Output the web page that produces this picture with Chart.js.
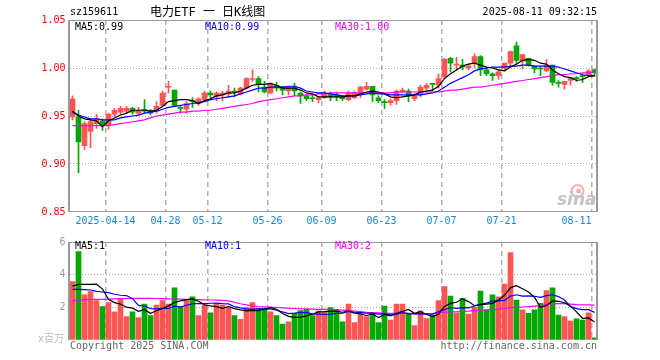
<!DOCTYPE html>
<html>
<head>
<meta charset="utf-8">
<script src="https://cdn.jsdelivr.net/npm/chart.js@4.4.1/dist/chart.umd.min.js"></script>
<style>
  body { margin: 0; background: #fff; }
  #wrap { position: relative; width: 660px; height: 360px; overflow: hidden;
          font-family: "DejaVu Sans Mono", "Noto Sans CJK SC", monospace; font-size: 10px; }
  #wrap canvas { position: absolute; left: 0; }
  .t { position: absolute; white-space: pre; line-height: 12px; }
</style>
</head>
<body>
<div id="wrap">
  <canvas id="k" width="660" height="232" style="top:0"></canvas>
  <canvas id="v" width="660" height="128" style="top:232px"></canvas>

  <div class="t" style="left:70px;top:6px">sz159611</div>
  <div class="t" style="left:150px;top:5px;font-size:12px;line-height:14px">电力ETF 一 日K线图</div>
  <div class="t" style="right:63px;top:6px">2025-08-11 09:32:15</div>

  <div class="t" id="pma5" style="left:75px;top:21px;color:#000"></div>
  <div class="t" id="pma10" style="left:205px;top:21px;color:#00f"></div>
  <div class="t" id="pma30" style="left:335px;top:21px;color:#f0f"></div>

  <div class="t" id="vma5l" style="left:75px;top:240px;color:#000"></div>
  <div class="t" id="vma10l" style="left:205px;top:240px;color:#00f"></div>
  <div class="t" id="vma30l" style="left:335px;top:240px;color:#f0f"></div>

  <div class="t" style="left:38px;top:333px;color:#bbb">x百万</div>
  <div class="t" style="left:70px;top:340px;color:#666">Copyright 2025 SINA.COM</div>
  <div class="t" style="right:63px;top:340px;color:#666">http://finance.sina.com.cn</div>
</div>

<script>
// trading days shown
const dates = [
  '2025-04-03','2025-04-07','2025-04-08','2025-04-09','2025-04-10','2025-04-11',
  '2025-04-14','2025-04-15','2025-04-16','2025-04-17','2025-04-18',
  '2025-04-21','2025-04-22','2025-04-23','2025-04-24','2025-04-25',
  '2025-04-28','2025-04-29','2025-04-30',
  '2025-05-06','2025-05-07','2025-05-08','2025-05-09',
  '2025-05-12','2025-05-13','2025-05-14','2025-05-15','2025-05-16',
  '2025-05-19','2025-05-20','2025-05-21','2025-05-22','2025-05-23',
  '2025-05-26','2025-05-27','2025-05-28','2025-05-29','2025-05-30',
  '2025-06-03','2025-06-04','2025-06-05','2025-06-06',
  '2025-06-09','2025-06-10','2025-06-11','2025-06-12','2025-06-13',
  '2025-06-16','2025-06-17','2025-06-18','2025-06-19','2025-06-20',
  '2025-06-23','2025-06-24','2025-06-25','2025-06-26','2025-06-27',
  '2025-06-30','2025-07-01','2025-07-02','2025-07-03','2025-07-04',
  '2025-07-07','2025-07-08','2025-07-09','2025-07-10','2025-07-11',
  '2025-07-14','2025-07-15','2025-07-16','2025-07-17','2025-07-18',
  '2025-07-21','2025-07-22','2025-07-23','2025-07-24','2025-07-25',
  '2025-07-28','2025-07-29','2025-07-30','2025-07-31','2025-08-01',
  '2025-08-04','2025-08-05','2025-08-06','2025-08-07','2025-08-08',
  '2025-08-11'
];

const opens = [
  0.949,0.949,0.919,0.934,0.942,0.945,0.941,0.952,0.954,0.955,
  0.958,0.953,0.957,0.955,0.955,0.961,0.980,0.977,0.959,0.957,
  0.966,0.963,0.967,0.974,0.970,0.972,0.973,0.976,0.973,0.979,
  0.988,0.989,0.980,0.974,0.982,0.980,0.976,0.980,0.974,0.971,
  0.969,0.967,0.969,0.972,0.972,0.970,0.967,0.969,0.973,0.978,
  0.981,0.969,0.965,0.964,0.966,0.975,0.976,0.968,0.972,0.979,
  0.984,0.982,0.991,1.010,1.003,1.003,1.000,1.005,1.012,0.998,
  0.994,0.992,1.000,1.005,1.023,1.007,1.010,1.002,1.000,0.997,
  1.003,0.985,0.983,0.987,0.990,0.992,0.993,0.998
];
const highs = [
  0.971,0.956,0.944,0.946,0.952,0.947,0.953,0.958,0.960,0.960,
  0.959,0.959,0.967,0.957,0.965,0.976,0.986,0.977,0.961,0.965,
  0.969,0.969,0.976,0.976,0.975,0.976,0.982,0.979,0.980,0.990,
  0.998,0.991,0.986,0.984,0.985,0.981,0.981,0.984,0.975,0.972,
  0.972,0.970,0.976,0.975,0.975,0.971,0.976,0.976,0.981,0.985,
  0.981,0.971,0.967,0.968,0.977,0.979,0.978,0.973,0.982,0.984,
  0.984,0.994,1.010,1.011,1.011,1.009,1.004,1.015,1.013,1.000,
  0.995,0.998,1.005,1.018,1.027,1.014,1.010,1.002,1.002,1.009,
  1.003,0.987,0.986,0.990,0.991,0.994,0.998,0.999
];
const lows = [
  0.946,0.891,0.915,0.917,0.937,0.935,0.936,0.949,0.951,0.953,
  0.952,0.951,0.953,0.951,0.953,0.960,0.974,0.960,0.953,0.953,
  0.959,0.961,0.965,0.969,0.966,0.966,0.969,0.970,0.972,0.978,
  0.986,0.975,0.974,0.973,0.976,0.972,0.972,0.971,0.963,0.966,
  0.965,0.964,0.968,0.966,0.966,0.966,0.966,0.968,0.969,0.977,
  0.965,0.964,0.958,0.961,0.962,0.974,0.965,0.966,0.970,0.977,
  0.976,0.979,0.989,0.996,0.998,0.998,0.998,1.000,0.992,0.992,
  0.987,0.988,0.997,1.002,1.005,0.999,1.002,0.995,0.992,0.996,
  0.982,0.980,0.978,0.982,0.986,0.985,0.991,0.991
];
const closes = [
  0.968,0.923,0.942,0.944,0.947,0.941,0.952,0.956,0.958,0.958,
  0.954,0.956,0.955,0.953,0.960,0.974,0.981,0.961,0.958,0.963,
  0.965,0.968,0.974,0.972,0.974,0.974,0.976,0.975,0.979,0.989,
  0.989,0.983,0.975,0.983,0.979,0.977,0.980,0.976,0.971,0.968,
  0.968,0.969,0.973,0.970,0.970,0.968,0.974,0.974,0.980,0.981,
  0.972,0.966,0.964,0.966,0.976,0.977,0.971,0.971,0.980,0.982,
  0.983,0.989,1.009,1.005,1.004,1.001,1.002,1.012,0.998,0.994,
  0.992,0.996,1.005,1.017,1.008,1.014,1.003,0.999,0.999,1.003,
  0.985,0.984,0.986,0.990,0.989,0.991,0.997,0.995
];

// price moving averages
const ma5 = [
  0.955,0.950,0.947,0.946,0.945,0.939,0.945,0.948,0.951,0.953,
  0.956,0.956,0.956,0.955,0.956,0.960,0.965,0.966,0.967,0.967,
  0.966,0.963,0.966,0.968,0.971,0.972,0.974,0.974,0.976,0.979,
  0.982,0.983,0.983,0.984,0.982,0.979,0.979,0.979,0.977,0.974,
  0.973,0.970,0.970,0.970,0.970,0.970,0.971,0.971,0.973,0.975,
  0.976,0.975,0.973,0.970,0.969,0.970,0.971,0.972,0.975,0.976,
  0.977,0.981,0.989,0.994,0.998,1.002,1.004,1.005,1.003,1.001,
  1.000,0.998,0.997,1.001,1.004,1.008,1.009,1.008,1.005,1.004,
  0.998,0.994,0.991,0.990,0.987,0.988,0.991,0.992
];
const ma10 = [
  0.954,0.951,0.949,0.947,0.947,0.946,0.946,0.946,0.948,0.949,
  0.950,0.951,0.953,0.954,0.955,0.957,0.959,0.960,0.961,0.962,
  0.963,0.964,0.965,0.967,0.968,0.969,0.970,0.971,0.973,0.975,
  0.977,0.979,0.979,0.980,0.980,0.980,0.981,0.981,0.979,0.976,
  0.975,0.974,0.974,0.973,0.972,0.971,0.971,0.971,0.972,0.973,
  0.974,0.973,0.973,0.972,0.972,0.972,0.972,0.972,0.972,0.973,
  0.974,0.976,0.980,0.984,0.987,0.990,0.993,0.997,0.999,1.000,
  1.001,1.001,1.001,1.002,1.002,1.003,1.003,1.002,1.002,1.002,
  1.002,1.001,0.999,0.997,0.995,0.993,0.992,0.992
];
const ma30 = [
  0.940,0.940,0.940,0.940,0.940,0.940,0.940,0.941,0.942,0.943,
  0.944,0.945,0.946,0.948,0.950,0.951,0.952,0.953,0.954,0.954,
  0.955,0.955,0.956,0.956,0.957,0.958,0.959,0.960,0.961,0.962,
  0.963,0.965,0.966,0.967,0.968,0.969,0.970,0.971,0.971,0.972,
  0.972,0.973,0.973,0.974,0.974,0.974,0.974,0.974,0.974,0.974,
  0.974,0.974,0.974,0.974,0.975,0.975,0.975,0.975,0.975,0.975,
  0.975,0.975,0.976,0.977,0.977,0.978,0.979,0.980,0.980,0.981,
  0.982,0.983,0.984,0.985,0.986,0.987,0.988,0.989,0.990,0.991,
  0.992,0.993,0.993,0.994,0.994,0.995,0.995,0.996
];

// volume, millions
const volumes = [
  3.57,5.41,2.76,2.96,2.41,2.04,2.29,1.73,2.55,1.43,
  1.73,1.37,2.20,1.49,2.14,2.41,2.20,3.20,2.04,2.49,
  2.65,1.49,2.14,1.67,2.24,2.14,2.04,1.49,1.27,1.98,
  2.29,1.94,1.94,1.73,1.49,0.98,1.12,1.63,1.80,1.88,
  1.49,1.78,1.73,1.98,1.88,1.12,2.20,1.06,1.67,1.43,
  1.63,1.06,2.08,1.22,2.20,2.20,1.63,0.88,1.78,1.31,
  1.53,2.41,3.27,2.69,1.67,2.55,1.59,2.00,3.00,1.84,
  2.76,2.65,3.43,5.35,2.45,1.84,1.63,1.84,2.24,3.02,
  3.20,1.53,1.43,1.16,1.29,1.22,1.67,0.14
];
const vma5 = [
  3.30,3.41,3.41,3.41,3.42,3.12,2.49,2.29,2.20,2.01,
  1.95,1.76,1.86,1.64,1.79,1.92,2.09,2.29,2.40,2.47,
  2.52,2.37,2.16,2.09,2.04,1.94,2.05,1.92,1.84,1.78,
  1.81,1.79,1.88,1.98,1.88,1.62,1.45,1.39,1.40,1.48,
  1.58,1.72,1.74,1.77,1.77,1.70,1.78,1.65,1.59,1.50,
  1.60,1.37,1.57,1.48,1.64,1.75,1.87,1.63,1.74,1.56,
  1.43,1.58,2.06,2.24,2.31,2.52,2.35,2.10,2.16,2.20,
  2.24,2.45,2.74,3.21,3.33,3.14,2.94,2.62,2.00,2.11,
  2.39,2.37,2.28,2.07,1.72,1.33,1.35,1.10
];
const vma10 = [
  3.10,3.10,3.08,3.06,2.98,2.94,2.90,2.80,2.74,2.72,
  2.53,2.12,2.08,1.92,1.90,1.94,1.93,2.07,2.02,2.13,
  2.22,2.23,2.23,2.25,2.26,2.23,2.21,2.04,1.97,1.91,
  1.88,1.92,1.90,1.91,1.83,1.72,1.62,1.64,1.69,1.68,
  1.60,1.59,1.57,1.59,1.63,1.64,1.75,1.70,1.68,1.64,
  1.65,1.58,1.61,1.54,1.57,1.68,1.62,1.60,1.61,1.60,
  1.59,1.73,1.85,1.99,1.94,1.98,1.97,2.08,2.20,2.26,
  2.38,2.40,2.42,2.69,2.77,2.69,2.70,2.68,2.61,2.72,
  2.77,2.66,2.45,2.04,1.92,1.86,1.86,1.69
];
const vma30 = [
  2.40,2.45,2.47,2.49,2.49,2.49,2.50,2.52,2.53,2.54,
  2.55,2.55,2.55,2.55,2.54,2.53,2.52,2.51,2.50,2.49,
  2.48,2.47,2.46,2.45,2.44,2.42,2.40,2.30,2.22,2.15,
  2.08,2.05,2.03,2.01,1.99,1.97,1.95,1.93,1.91,1.90,
  1.89,1.88,1.88,1.87,1.85,1.83,1.80,1.77,1.74,1.70,
  1.68,1.66,1.64,1.63,1.63,1.63,1.63,1.62,1.61,1.60,
  1.62,1.66,1.70,1.72,1.73,1.75,1.77,1.80,1.82,1.85,
  1.87,1.89,1.93,1.98,2.00,2.02,2.04,2.07,2.10,2.18,
  2.21,2.23,2.24,2.20,2.16,2.15,2.15,2.14
];

// x axis labels
const tickDates = ['2025-04-14','2025-04-28','2025-05-12','2025-05-26','2025-06-09',
                   '2025-06-23','2025-07-07','2025-07-21','2025-08-11'];
const tickTexts = ['2025-04-14','04-28','05-12','05-26','06-09',
                   '06-23','07-07','07-21','08-11     ']; // trailing spaces pull the last one inside the frame

const RED = '#ff5555', GREEN = '#00a800';
const colors = dates.map((d, i) => closes[i] >= opens[i] ? RED : GREEN);
const tickAt = {};
tickDates.forEach((d, k) => { tickAt[dates.indexOf(d)] = tickTexts[k]; });

Chart.defaults.font.family = '"DejaVu Sans Mono", monospace';
Chart.defaults.font.size = 10;

const frame = {
  id: 'frame',
  afterDatasetsDraw(chart, args, o) {
    const { ctx, chartArea: a } = chart;
    const l = Math.round(a.left) - 1, r = Math.round(a.right) - 1;
    ctx.save();
    ctx.strokeStyle = '#999';
    ctx.lineWidth = 1;
    ctx.beginPath();
    ctx.moveTo(l, a.top + 0.5); ctx.lineTo(r, a.top + 0.5);
    if (o.bottom) { ctx.moveTo(l, a.bottom - 0.5); ctx.lineTo(r, a.bottom - 0.5); }
    ctx.stroke();
    ctx.lineWidth = 2;
    ctx.beginPath();
    ctx.moveTo(l, a.top); ctx.lineTo(l, a.bottom);
    ctx.moveTo(r, a.top); ctx.lineTo(r, a.bottom);
    ctx.stroke();
    ctx.restore();
  }
};

// sina watermark
const logo = {
  id: 'logo',
  beforeDatasetsDraw(chart) {
    const { ctx, chartArea: a } = chart;
    ctx.save();
    ctx.strokeStyle = '#f3b0b0';
    ctx.lineWidth = 2;
    ctx.beginPath();
    ctx.arc(a.right - 20, a.bottom - 21, 6, 0, Math.PI * 2);
    ctx.stroke();
    ctx.fillStyle = '#f3b0b0';
    ctx.beginPath();
    ctx.arc(a.right - 19, a.bottom - 21, 2.5, 0, Math.PI * 2);
    ctx.fill();
    ctx.font = 'italic bold 17px "DejaVu Sans"';
    ctx.fillStyle = '#c4c4c4';
    ctx.textAlign = 'right';
    ctx.fillText('sina', a.right - 1, a.bottom - 7);
    ctx.restore();
  }
};

const xAxis = (showLabels) => ({
  offset: true,
  grid: {
    offset: true, drawTicks: false, lineWidth: 1.5,
    color: c => (c.index in tickAt) ? '#b0b0b0' : 'transparent'
  },
  border: { display: false, dash: [5, 4] },
  ticks: {
    display: showLabels, autoSkip: false, maxRotation: 0, padding: 3, labelOffset: -3,
    color: '#1a88d0',
    callback: (v, i) => tickAt[i] || ''
  },
  afterFit: s => { s.height = 20; }
});

// half-pixel axis width keeps the 5px bodies on whole pixels
const yFit = s => { s.width = 69.5; };

const lineDs = (label, data, color) => ({
  type: 'line', label, data, borderColor: color, borderWidth: 1.2,
  pointRadius: 0, tension: 0, order: 0
});

new Chart(document.getElementById('k'), {
  type: 'bar',
  data: {
    labels: dates,
    datasets: [
      lineDs('MA5', ma5, '#000'),
      lineDs('MA10', ma10, '#00f'),
      lineDs('MA30', ma30, '#f0f'),
      { label: 'body', data: dates.map((d, i) => [opens[i], closes[i]]),
        backgroundColor: colors, barThickness: 5, grouped: false, order: 1 },
      { label: 'wick', data: dates.map((d, i) => [lows[i], highs[i]]),
        backgroundColor: colors, barThickness: 1, grouped: false, order: 2 }
    ]
  },
  options: {
    responsive: false, animation: false, devicePixelRatio: 1,
    layout: { padding: { top: 20, right: 62.5, left: 0, bottom: 0 } },
    plugins: { legend: { display: false }, tooltip: { enabled: false }, frame: { bottom: true } },
    scales: {
      x: xAxis(true),
      y: {
        min: 0.85, max: 1.05,
        ticks: { stepSize: 0.05, color: '#f00', padding: 4, callback: v => v.toFixed(2) },
        grid: {
          drawTicks: false,
          color: c => (c.index === 0 || c.tick.value > 1.049) ? 'transparent' : '#aaa'
        },
        border: { display: false, dash: [1, 2] },
        afterFit: yFit
      }
    }
  },
  plugins: [logo, frame]
});

new Chart(document.getElementById('v'), {
  type: 'bar',
  data: {
    labels: dates,
    datasets: [
      lineDs('MA5', vma5, '#000'),
      lineDs('MA10', vma10, '#00f'),
      lineDs('MA30', vma30, '#f0f'),
      { label: 'vol', data: volumes, backgroundColor: colors, barThickness: 5, grouped: false, order: 1 }
    ]
  },
  options: {
    responsive: false, animation: false, devicePixelRatio: 1,
    layout: { padding: { top: 9, right: 62.5, left: 0, bottom: 0 } },
    plugins: { legend: { display: false }, tooltip: { enabled: false }, frame: { bottom: false } },
    scales: {
      x: xAxis(false),
      y: {
        min: 0, max: 6,
        ticks: { stepSize: 2, color: '#999', padding: 4, callback: v => v === 0 ? '' : v },
        grid: {
          drawTicks: false,
          color: c => (c.tick.value === 0 || c.tick.value === 6) ? 'transparent' : '#aaa'
        },
        border: { display: false, dash: [1, 2] },
        afterFit: yFit
      }
    }
  },
  plugins: [frame]
});

const last = a => a[a.length - 1];
document.getElementById('pma5').textContent = 'MA5:' + last(ma5).toFixed(2);
document.getElementById('pma10').textContent = 'MA10:' + last(ma10).toFixed(2);
document.getElementById('pma30').textContent = 'MA30:' + last(ma30).toFixed(2);
document.getElementById('vma5l').textContent = 'MA5:' + Math.floor(last(vma5));
document.getElementById('vma10l').textContent = 'MA10:' + Math.floor(last(vma10));
document.getElementById('vma30l').textContent = 'MA30:' + Math.floor(last(vma30));
</script>
</body>
</html>
